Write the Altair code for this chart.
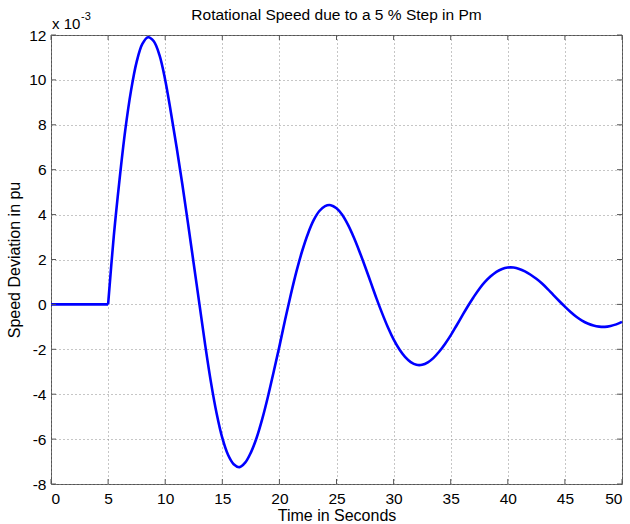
import altair as alt
import pandas as pd

# Rotor speed deviation after a 5 % step in mechanical power (values in 1e-3 pu)
# Before the step at t = 5 s the deviation stays at zero.
flat_time = [0.0, 2.5, 5.0]
flat_dev = [0.0, 0.0, 0.0]

# Damped oscillation following the step, sampled every half second
resp_time = [5.0, 5.5, 6.0, 6.5, 7.0, 7.5, 8.0, 8.5, 9.0, 9.5,
             10.0, 10.5, 11.0, 11.5, 12.0, 12.5, 13.0, 13.5, 14.0, 14.5,
             15.0, 15.5, 16.0, 16.5, 17.0, 17.5, 18.0, 18.5, 19.0, 19.5,
             20.0, 20.5, 21.0, 21.5, 22.0, 22.5, 23.0, 23.5, 24.0, 24.5,
             25.0, 25.5, 26.0, 26.5, 27.0, 27.5, 28.0, 28.5, 29.0, 29.5,
             30.0, 30.5, 31.0, 31.5, 32.0, 32.5, 33.0, 33.5, 34.0, 34.5,
             35.0, 35.5, 36.0, 36.5, 37.0, 37.5, 38.0, 38.5, 39.0, 39.5,
             40.0, 40.5, 41.0, 41.5, 42.0, 42.5, 43.0, 43.5, 44.0, 44.5,
             45.0, 45.5, 46.0, 46.5, 47.0, 47.5, 48.0, 48.5, 49.0, 49.5, 50.0]
resp_dev = [0.0, 3.05, 5.55, 7.75, 9.5, 10.8, 11.6, 11.9, 11.72, 11.1,
            10.0, 8.55, 7.0, 5.35, 3.6, 1.8, 0.0, -1.8, -3.45, -4.85,
            -5.95, -6.7, -7.12, -7.25, -7.05, -6.6, -5.95, -5.1, -4.1, -3.0,
            -1.87, -0.68, 0.44, 1.48, 2.39, 3.15, 3.75, 4.16, 4.38, 4.42,
            4.28, 3.99, 3.55, 3.0, 2.37, 1.69, 0.98, 0.27, -0.4, -1.02,
            -1.56, -2.0, -2.34, -2.57, -2.69, -2.69, -2.58, -2.38, -2.1, -1.76,
            -1.38, -0.95, -0.51, -0.08, 0.32, 0.69, 1.0, 1.25, 1.45, 1.58,
            1.64, 1.64, 1.58, 1.47, 1.32, 1.14, 0.93, 0.68, 0.41, 0.15,
            -0.1, -0.34, -0.55, -0.72, -0.85, -0.94, -0.99, -1.0, -0.96, -0.89, -0.78]

x_ticks = list(range(0, 51, 5))
y_ticks = list(range(-8, 13, 2))

W, H = 571, 449
FONT = "Liberation Sans"

flat = pd.DataFrame({"t": flat_time, "w": flat_dev})
resp = pd.DataFrame({"t": resp_time, "w": resp_dev})
xt = pd.DataFrame({"t": x_ticks})
yt = pd.DataFrame({"w": y_ticks})

x_scale = alt.Scale(domain=[0, 50], nice=False, zero=False)
y_scale = alt.Scale(domain=[-8, 12], nice=False, zero=False)

# plain ASCII hyphen for negative tick labels
hyphen_labels = "datum.value < 0 ? '-' + abs(datum.value) : '' + datum.value"

x_axis = alt.Axis(values=x_ticks, title="Time in Seconds", grid=True,
                  gridDash=[1, 3], gridColor="#8c8c8c", gridWidth=1,
                  domain=False, ticks=False, labelPadding=7,
                  labelFont=FONT, labelFontSize=15.5, labelColor="#000",
                  titleFont=FONT, titleFontSize=16, titleFontWeight="normal",
                  titleColor="#000", titlePadding=1)
y_axis = alt.Axis(values=y_ticks, title="Speed Deviation in pu", grid=True,
                  gridDash=[1, 3], gridColor="#8c8c8c", gridWidth=1,
                  domain=False, ticks=False, labelPadding=5,
                  labelExpr=hyphen_labels,
                  labelFont=FONT, labelFontSize=15.5, labelColor="#000",
                  titleFont=FONT, titleFontSize=16, titleFontWeight="normal",
                  titleColor="#000", titlePadding=6)

line_style = dict(color="#0000ff", strokeWidth=2.6, strokeJoin="round")
flat_line = alt.Chart(flat).mark_line(**line_style).encode(
    x=alt.X("t:Q", scale=x_scale, axis=x_axis),
    y=alt.Y("w:Q", scale=y_scale, axis=y_axis),
)
resp_line = alt.Chart(resp).mark_line(interpolate="catmull-rom", **line_style).encode(
    x=alt.X("t:Q", scale=x_scale),
    y=alt.Y("w:Q", scale=y_scale),
)

# inward tick marks on all four sides of the box
tick_style = dict(color="#555", strokeWidth=1)
xb = alt.Chart(xt).mark_rule(**tick_style).encode(
    x=alt.X("t:Q", scale=x_scale), y=alt.value(H), y2=alt.value(H - 5))
xtp = alt.Chart(xt).mark_rule(**tick_style).encode(
    x=alt.X("t:Q", scale=x_scale), y=alt.value(0), y2=alt.value(5))
yl = alt.Chart(yt).mark_rule(**tick_style).encode(
    y=alt.Y("w:Q", scale=y_scale), x=alt.value(0), x2=alt.value(5))
yr = alt.Chart(yt).mark_rule(**tick_style).encode(
    y=alt.Y("w:Q", scale=y_scale), x=alt.value(W), x2=alt.value(W - 5))

# axis exponent label
exp_base = alt.Chart(pd.DataFrame({"s": ["x 10"]})).mark_text(
    font=FONT, fontSize=15, align="left", baseline="alphabetic", color="#000"
).encode(text="s:N", x=alt.value(1), y=alt.value(-6))
exp_pow = alt.Chart(pd.DataFrame({"s": ["-3"]})).mark_text(
    font=FONT, fontSize=11, align="left", baseline="alphabetic", color="#000"
).encode(text="s:N", x=alt.value(30), y=alt.value(-15))

# chart heading
heading = alt.Chart(pd.DataFrame({"s": ["Rotational Speed due to a 5 % Step in Pm"]})).mark_text(
    font=FONT, fontSize=15.5, align="center", baseline="middle", color="#000"
).encode(text="s:N", x=alt.value(W / 2), y=alt.value(-20))

chart = alt.layer(flat_line, resp_line, xb, xtp, yl, yr,
                  exp_base, exp_pow, heading).properties(
    width=W, height=H,
    autosize=alt.AutoSizeParams(type="none"),
    padding={"left": 51, "top": 35, "right": 8, "bottom": 40},
    background="white",
).configure_view(stroke="#555", strokeWidth=1)

chart.save("out.html", embed_options={"renderer": "svg", "actions": False})
